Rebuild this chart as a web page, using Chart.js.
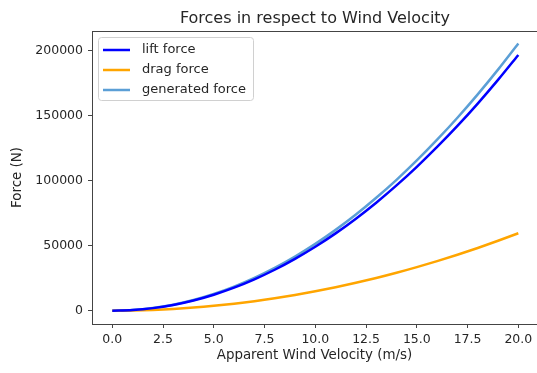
<!DOCTYPE html>
<html>
<head>
<meta charset="utf-8">
<script src="https://cdn.jsdelivr.net/npm/chart.js@4/dist/chart.umd.min.js"></script>
<style>
  html, body { margin: 0; padding: 0; background: #fff; overflow: hidden; }
  #wrap { width: 537px; height: 373px; }
</style>
</head>
<body>
<div id="wrap"><canvas id="forceChart" width="537" height="373"></canvas></div>
<script>
// apparent wind velocity (m/s)
const velocity = [0, 1, 2, 3, 4, 5, 6, 7, 8, 9, 10, 11, 12, 13, 14, 15, 16, 17, 18, 19, 20];

// forces (N)
const liftForce = [0, 490, 1970, 4430, 7870, 12300, 17700, 24100, 31500, 39900, 49200,
  59500, 70800, 83100, 96400, 110700, 126000, 142200, 159400, 177600, 196800];
const dragForce = [0, 150, 600, 1340, 2380, 3730, 5370, 7300, 9540, 12070, 14900,
  18030, 21460, 25180, 29200, 33530, 38150, 43060, 48280, 53790, 59600];
const generatedForce = [0, 510, 2060, 4630, 8220, 12850, 18500, 25200, 32900, 41600, 51400,
  62200, 74000, 86900, 100700, 115600, 131600, 148500, 166500, 185500, 205600];

const xTicks = [0, 2.5, 5, 7.5, 10, 12.5, 15, 17.5, 20];
const yTicks = [0, 50000, 100000, 150000, 200000];

const FONT = "'DejaVu Sans', sans-serif";
const INK = "#262626";
const SPINE = "#444";

function toPoints(ys) {
  return velocity.map((v, i) => ({ x: v, y: ys[i] }));
}

// spines, title over the plot area and the legend box drawn by hand
const decorations = {
  id: "decorations",
  afterDraw(chart) {
    const ctx = chart.ctx;
    const a = chart.chartArea;
    ctx.save();

    // the right spine falls outside the canvas, keep that edge clean
    ctx.fillStyle = "#fff";
    ctx.fillRect(a.right - 2, a.top, 3, a.bottom - a.top + 1);

    ctx.strokeStyle = SPINE;
    ctx.lineWidth = 1;
    ctx.beginPath();
    ctx.moveTo(a.left + 0.5, a.top);
    ctx.lineTo(a.left + 0.5, a.bottom + 1);
    ctx.moveTo(a.left, a.top + 0.5);
    ctx.lineTo(a.right, a.top + 0.5);
    ctx.moveTo(a.left, a.bottom + 0.5);
    ctx.lineTo(a.right, a.bottom + 0.5);
    ctx.stroke();

    ctx.fillStyle = INK;
    ctx.font = "16px " + FONT;
    ctx.textAlign = "center";
    ctx.textBaseline = "alphabetic";
    ctx.fillText("Forces in respect to Wind Velocity", 315, 23);

    // legend
    const bx = a.left + 6, by = a.top + 6, bw = 155, bh = 63;
    ctx.fillStyle = "rgba(255,255,255,0.8)";
    ctx.strokeStyle = "#d0d0d0";
    ctx.beginPath();
    ctx.roundRect(bx + 0.5, by + 0.5, bw, bh, 3);
    ctx.fill();
    ctx.stroke();
    ctx.font = "13px " + FONT;
    ctx.textAlign = "left";
    ctx.textBaseline = "middle";
    chart.data.datasets.forEach((ds, i) => {
      const y = by + 13 + i * 20;
      ctx.strokeStyle = ds.borderColor;
      ctx.lineWidth = 2.5;
      ctx.beginPath();
      ctx.moveTo(bx + 5, y);
      ctx.lineTo(bx + 32, y);
      ctx.stroke();
      ctx.fillStyle = INK;
      ctx.fillText(ds.label, bx + 44, y);
    });
    ctx.restore();
  }
};

new Chart(document.getElementById("forceChart"), {
  type: "line",
  data: {
    datasets: [
      { label: "lift force", data: toPoints(liftForce), borderColor: "#0000ff" },
      { label: "drag force", data: toPoints(dragForce), borderColor: "#ffa500" },
      { label: "generated force", data: toPoints(generatedForce), borderColor: "#5b9fd6" }
    ]
  },
  options: {
    responsive: false,
    animation: false,
    layout: { padding: { top: 31, left: 0, right: 0, bottom: 0 } },
    elements: {
      point: { radius: 0 },
      line: { borderWidth: 2.5, tension: 0.4, cubicInterpolationMode: "monotone" }
    },
    plugins: {
      legend: { display: false },
      title: { display: false },
      tooltip: { enabled: false }
    },
    scales: {
      x: {
        type: "linear",
        min: -1,
        max: 20.92,
        afterFit: (s) => { s.height = 49; s.paddingRight = 0; },
        afterBuildTicks: (s) => { s.ticks = xTicks.map(v => ({ value: v })); },
        grid: { drawOnChartArea: false, tickLength: 4, color: SPINE },
        border: { display: false },
        ticks: {
          color: INK, padding: 4, maxRotation: 0, autoSkip: false,
          font: { family: FONT, size: 12.5 },
          callback: (v) => v.toFixed(1)
        },
        title: {
          display: true, text: "Apparent Wind Velocity (m/s)", color: INK,
          font: { family: FONT, size: 13.4 }, padding: { top: 2, bottom: 9 }
        }
      },
      y: {
        type: "linear",
        min: -10250,
        max: 215250,
        afterFit: (s) => { s.width = 92; },
        afterBuildTicks: (s) => { s.ticks = yTicks.map(v => ({ value: v })); },
        grid: { drawOnChartArea: false, tickLength: 4, color: SPINE },
        border: { display: false },
        ticks: {
          color: INK, padding: 5, autoSkip: false,
          font: { family: FONT, size: 12.5 },
          callback: (v) => String(v)
        },
        title: {
          display: true, text: "Force (N)", color: INK,
          font: { family: FONT, size: 13.4 }, padding: { top: 9, bottom: 0 }
        }
      }
    }
  },
  plugins: [decorations]
});
</script>
</body>
</html>
